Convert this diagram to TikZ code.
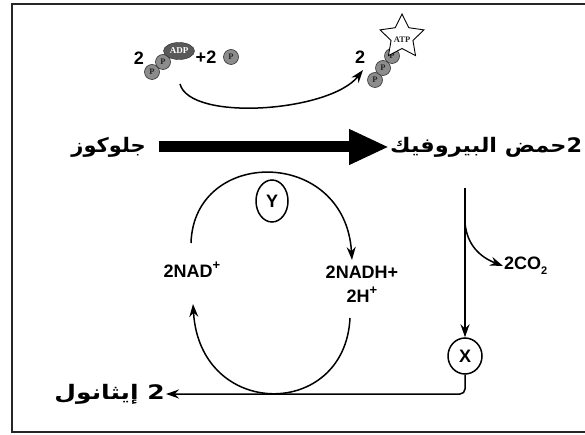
\documentclass[tikz,border=0pt]{standalone}
\usepackage{fontspec}
\usepackage{graphicx}
\setmainfont{Liberation Sans}
\newfontfamily\labfont{Liberation Sans}
\newfontfamily\arabicfont[Script=Arabic]{DejaVu Sans}
\newfontfamily\serifb{Liberation Serif}
\TeXXeTstate=1
\usetikzlibrary{arrows.meta,shapes.geometric}
\newcommand{\supp}[1]{\raisebox{0.45em}{\fontsize{13}{13}\selectfont #1}}
\newcommand{\subb}[1]{\raisebox{-0.3em}{\fontsize{11}{11}\selectfont #1}}
\tikzset{
  frame/.style={line width=1.6pt, draw=black!85},
  lbl/.style={font=\labfont\bfseries\fontsize{18}{20}\selectfont, inner sep=1pt},
  small/.style={font=\labfont\bfseries\fontsize{18}{18}\selectfont, inner sep=0pt},
  arab/.style={font=\arabicfont\bfseries\fontsize{20}{22}\selectfont, inner sep=1pt},
  phos/.style={circle, draw=black!80, line width=0.6pt, fill=black!45, minimum size=15pt, inner sep=0pt,
    font=\serifb\bfseries\fontsize{8.5}{9}\selectfont, text=black!85},
  arr/.style={line width=1.5pt, -{Stealth[length=13pt,width=9pt]}},
  bigarr/.style={line width=11pt, -{Triangle[length=40pt,width=33pt]}},
  ring/.style={ellipse, draw, line width=1.5pt, inner sep=1pt, font=\labfont\bfseries\fontsize{18}{18}\selectfont}
}
\begin{document}
\begin{tikzpicture}[x=1pt,y=-1pt]
\useasboundingbox (0,0) rectangle (585,435);
\draw[frame] (592,4) -- (12,4) -- (12,432) -- (592,432);

% ADP side
\node[small] (two1) at (139,58) {2};
\node[phos] (pa) at (152,72) {P};
\node[phos] (pb) at (163,62) {P};
\node[ellipse, fill=black!65, draw=black!85, minimum width=31pt, minimum height=17pt, inner sep=0pt,
  text=white, font=\serifb\bfseries\fontsize{9}{9}\selectfont] (adp) at (179,51) {ADP};
\node[small] (plus) at (206,57) {+2};
\node[phos] (pc) at (231,57) {P};

% ATP side
\node[small] (two2) at (360,57) {2};
\node[phos] (pd) at (375,80) {P};
\node[phos] (pe) at (383,68) {P};
\node[phos] (pf) at (392,56) {P};
\node[star, star points=5, star point ratio=2.0, draw, line width=0.9pt, fill=white,
  minimum size=46pt, inner sep=0pt] (star) at (402,37) {};
\node[font=\serifb\bfseries\fontsize{8.5}{9}\selectfont, text=black!85] (atp) at (402,40) {ATP};

\coordinate (c1s) at (180,84);
\coordinate (c1e) at (363,70);
\draw[arr] (c1s) .. controls (190,122) and (330,112) .. (c1e);

% main reaction
\node[arab, anchor=east] (glu) at (147,147) {\scalebox{1.05}[1]{\beginR جلوكوز\endR}};
\node[arab, anchor=west] (pyr) at (389,147) {\scalebox{1.12}[1]{\beginR 2حمض البيروفيك\endR}};
\draw[bigarr, shorten <=12pt] (glu.east) -- (pyr.west);

% cycle
\node[ring, minimum width=32pt, minimum height=42pt] (y) at (272,201) {Y};
\node[lbl] (nad) at (192,270) {2NAD\supp{+}};
\node[lbl, align=center] (nadh) at (362,284) {2NADH+\\[4pt]2H\supp{+}};
\coordinate (t1) at (191,243);
\coordinate (t2) at (352,260);
\coordinate (b1) at (350,318);
\coordinate (b2) at (193,304);
\draw[arr] (t1) .. controls (194,147) and (345,147) .. (t2);
\draw[arr] (b1) .. controls (345,420) and (200,420) .. (b2);

% pyruvate to X
\node[ring, minimum width=34pt, minimum height=36pt] (x) at (465,356) {X};
\coordinate (vtop) at (465,188);
\coordinate (br) at (465,223);
\draw[arr] (vtop) -- (x.north);
\node[lbl, anchor=west] (co2) at (503,266) {2CO\subb{2}};
\draw[arr] (br) .. controls (467,245) and (480,257) .. (co2.west);

% ethanol
\node[arab, anchor=east] (eth) at (166,394) {\scalebox{1.25}[1]{\beginR 2 إيثانول\endR}};
\draw[arr, rounded corners=5pt] (x.south) |- (eth.east);
\end{tikzpicture}
\end{document}
